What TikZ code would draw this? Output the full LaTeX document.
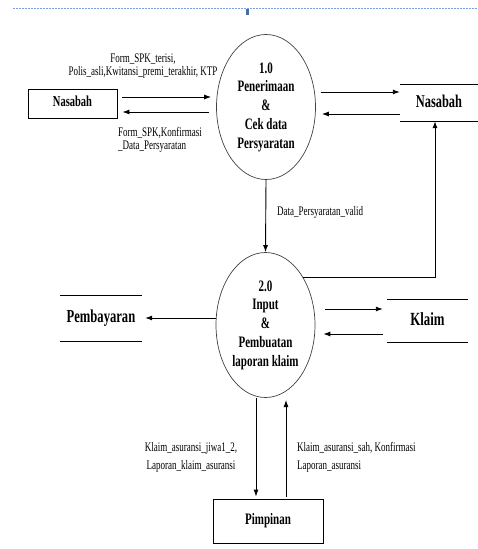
\documentclass[tikz,border=0pt]{standalone}
\usepackage{fontspec}
\setmainfont{Liberation Serif}
\usetikzlibrary{shapes.geometric,arrows.meta}

\definecolor{rulerblue}{RGB}{120,160,225}
\definecolor{markblue}{RGB}{70,110,165}

% text in the drawing is stretched upright
\newcommand{\tallc}[1]{\scalebox{1}[1.45]{\begin{tabular}{@{}c@{}}#1\end{tabular}}}
\newcommand{\talll}[1]{\scalebox{1}[1.45]{\begin{tabular}{@{}l@{}}#1\end{tabular}}}

\tikzset{
  proc/.style={draw=black!75, line width=0.7pt, ellipse, minimum width=99pt,
    minimum height=145pt, inner sep=0pt,
    font=\fontsize{11}{13}\selectfont\bfseries},
  ent/.style={draw, line width=0.9pt, inner sep=0pt, font=\bfseries},
  store/.style={inner sep=0pt, font=\bfseries},
  flow/.style={-{Latex[length=7pt,width=5pt]}, line width=0.9pt},
  lbl/.style={inner sep=0pt, font=\fontsize{9}{9}\selectfont}
}

\begin{document}
\begin{tikzpicture}[x=1pt,y=-1pt]
    \useasboundingbox (0,0) rectangle (478,549);
    \draw[rulerblue, line width=0.6pt, dash pattern=on 2pt off 1pt] (13,8) -- (478,8);
    \fill[markblue] (245.5,9) rectangle (248.5,15);

    % processes
    \path (266,107) node[proc] (p1) {\tallc{1.0\\Penerimaan\\\&\\Cek data\\Persyaratan}};
    \path (265.5,325) node[proc] (p2) {\tallc{2.0\\Input\\\&\\Pembuatan\\laporan klaim}};

    % entities
    \path (72.5,103.5) node[ent, minimum width=89pt, minimum height=29pt,
      font=\fontsize{10.5}{12}\selectfont\bfseries] (nasL) {\tallc{Nasabah}};
    \path (268,521) node[ent, minimum width=110pt, minimum height=44pt,
      font=\fontsize{11}{13}\selectfont\bfseries] (pimp) {\tallc{Pimpinan}};

    % stores
    \path (439,103) node[store, minimum width=78pt, minimum height=36pt,
      font=\fontsize{12.4}{14}\selectfont\bfseries] (nasR) {\tallc{Nasabah}};
    \path (101,318.5) node[store, minimum width=82pt, minimum height=45pt,
      font=\fontsize{12.6}{14}\selectfont\bfseries] (pemb) {\tallc{Pembayaran}};
    \path (427.5,321) node[store, minimum width=81pt, minimum height=42pt,
      font=\fontsize{12.8}{14}\selectfont\bfseries] (klaim) {\tallc{Klaim}};
    \foreach \s in {nasR,pemb,klaim}
      \draw[line width=1pt] (\s.north west) -- (\s.north east)
        (\s.south west) -- (\s.south east);

    % flows
    \draw[flow, shorten <=5pt, shorten >=5pt] (nasL.east |- 0,97) -- (p1.west |- 0,97);
    \draw[flow, shorten <=7pt, shorten >=5pt] (p1.west |- 0,112) -- (nasL.east |- 0,112);
    \draw[flow, shorten <=5pt] (p1.east |- 0,92) -- (nasR.west |- 0,92);
    \draw[flow, shorten >=6pt] (nasR.west |- 0,114) -- (p1.east |- 0,114);
    \draw[flow] (p1.south) -- (p2.north);
    \draw[flow] (p2.52) -| (nasR.south -| 435,0);
    \draw[flow, shorten >=3pt] (p2.west |- 0,318) -- (pemb.east |- 0,318);
    \draw[flow, shorten <=10pt, shorten >=4pt] (p2.east |- 0,309) -- (klaim.west |- 0,309);
    \draw[flow, shorten <=4pt, shorten >=8pt] (klaim.west |- 0,334) -- (p2.east |- 0,334);
    \draw[flow, shorten >=2pt] (p2.south -| 256,0) -- (pimp.north -| 256,0);
    \draw[flow, shorten <=2pt] (pimp.north -| 286,0) -- (286,400);

    % labels
    \path (143,66.5) node[lbl] (l1) {\tallc{Form\_SPK\_terisi,\\Polis\_asli,Kwitansi\_premi\_terakhir, KTP}};
    \path (118,140) node[lbl, anchor=west] (l2) {\talll{Form\_SPK,Konfirmasi\\\_Data\_Persyaratan}};
    \path (277,213) node[lbl, anchor=west] (l3) {\talll{Data\_Persyaratan\_valid}};
    \path (191,457) node[lbl, font=\fontsize{9}{12.4}\selectfont] (l4) {\tallc{Klaim\_asuransi\_jiwa1\_2,\\Laporan\_klaim\_asuransi}};
    \path (297,457) node[lbl, anchor=west, font=\fontsize{9}{12.4}\selectfont] (l5) {\talll{Klaim\_asuransi\_sah, Konfirmasi\\Laporan\_asuransi}};
  \end{tikzpicture}
\end{document}
